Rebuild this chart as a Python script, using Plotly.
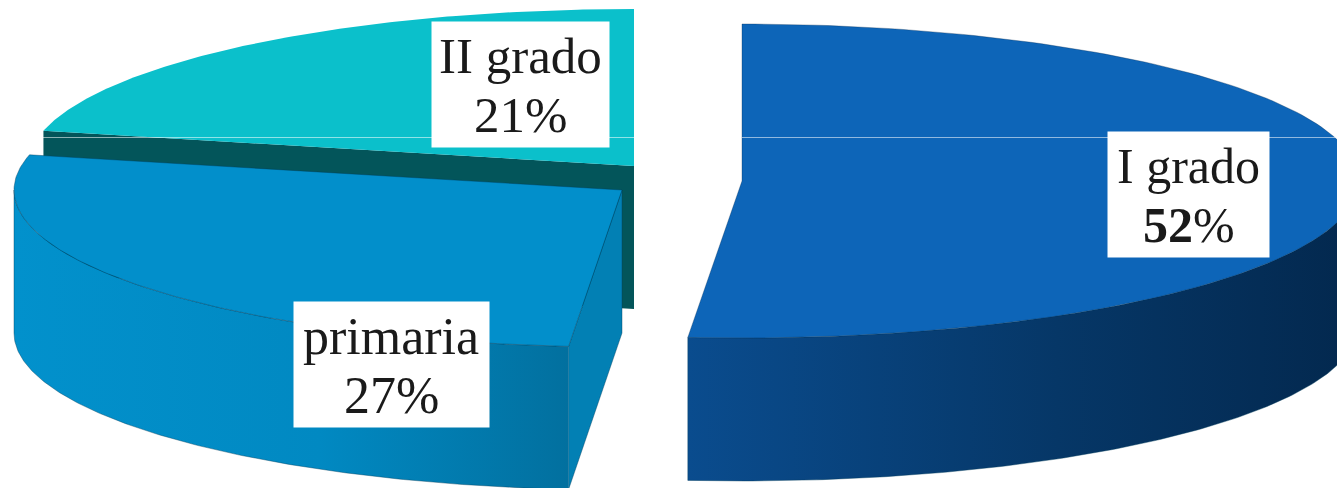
import numpy as np
import plotly.graph_objects as go

categories = ["I grado", "primaria", "II grado"]
shares = [51.4, 27.2, 21.4]
labels = ["52", "27", "21"]

W, H = 1337, 488
RY, DEPTH = 157, 143
vertex = {"I grado": (742, 181), "primaria": (622, 190), "II grado": (634, 166)}
radius = {"I grado": 617, "primaria": 608, "II grado": 606}
top_col = {"I grado": "#0d65b8", "primaria": "#028fcb", "II grado": "#0bc0cb"}

edges = np.concatenate([[0], np.cumsum(shares)]) / sum(shares) * 2 * np.pi
span = {c: (edges[i], edges[i + 1]) for i, c in enumerate(categories)}


def rim(c, a0=None, a1=None):
    s0, s1 = span[c]
    a0 = s0 if a0 is None else a0
    a1 = s1 if a1 is None else a1
    t = np.linspace(a0, a1, 160)
    cx, cy = vertex[c]
    return cx + radius[c] * np.sin(t), cy - RY * np.cos(t)


fig = go.Figure()


def face(x, y, color=None, grad=None, line="rgba(0,60,90,0.5)", width=0.8):
    kw = dict(fillcolor=color) if grad is None else dict(fillgradient=grad)
    fig.add_trace(go.Scatter(x=x, y=y, mode="lines", fill="toself", hoverinfo="skip",
                             line=dict(color=line, width=width), showlegend=False, **kw))


def grad(x0, x1, stops):
    return dict(type="horizontal", start=x0, stop=x1, colorscale=stops)


def pt_on(c, a):
    cx, cy = vertex[c]
    return cx + radius[c] * np.sin(a), cy - RY * np.cos(a)


# II grado: cut face and top
c = "II grado"
cx, cy = vertex[c]
x0, y0 = pt_on(c, span[c][0])
face([x0, cx, cx, x0, x0], [y0, cy, cy + DEPTH, y0 + DEPTH, y0], color="#03555a", width=0)
x, y = rim(c)
face(np.r_[cx, x, cx], np.r_[cy, y, cy], color=top_col[c], line=top_col[c], width=0)

# primaria: cut face, rim side, top
c = "primaria"
cx, cy = vertex[c]
x1, y1 = pt_on(c, span[c][0])
face([cx, x1, x1, cx, cx], [cy, y1, y1 + DEPTH, cy + DEPTH, cy], color="#0280b4")
x, y = rim(c, a1=3 * np.pi / 2)
face(np.r_[x, x[::-1]], np.r_[y, y[::-1] + DEPTH],
     grad=grad(x.min(), x.max(), [[0, "#0291cc"], [0.55, "#0189c2"], [1, "#02709f"]]))
x, y = rim(c)
face(np.r_[cx, x, cx], np.r_[cy, y, cy], color=top_col[c])

# I grado: rim side and top
c = "I grado"
cx, cy = vertex[c]
x, y = rim(c, a0=np.pi / 2)
face(np.r_[x, x[::-1]], np.r_[y, y[::-1] + DEPTH],
     grad=grad(x.min(), x.max(), [[0, "#0a4c8e"], [0.55, "#063767"], [1, "#03284e"]]))
x, y = rim(c)
face(np.r_[cx, x, cx], np.r_[cy, y, cy], color=top_col[c], line="rgba(3,40,80,0.4)")

# thin pale scan line that crosses the picture in the reference
for xa, xb in [(43, 634), (742, 1337)]:
    fig.add_shape(type="line", x0=xa, x1=xb, y0=137.5, y1=137.5,
                  line=dict(color="rgba(255,255,255,0.55)", width=1))

boxes = {"I grado": (1188.5, 194, 161, 50), "primaria": (391, 364, 195, 52), "II grado": (520, 84, 177, 51)}
for c, lab in zip(categories, labels):
    bx, by, bw, fs = boxes[c]
    val = f"<b>{lab}</b>%" if c == "I grado" else f"{lab}%"
    font = dict(family="Liberation Serif", size=fs, color="#1a1a1a")
    fig.add_annotation(x=bx, y=by, text=" ", showarrow=False, width=bw, height=125,
                       bgcolor="white", borderpad=0, font=font)
    fig.add_annotation(x=bx, y=by - 28, text=c, showarrow=False, font=font)
    fig.add_annotation(x=bx, y=by + 31, text=val, showarrow=False, font=font)

fig.update_layout(width=W, height=H, margin=dict(l=0, r=0, t=0, b=0), paper_bgcolor="white",
                  plot_bgcolor="white", showlegend=False,
                  xaxis=dict(range=[0, W], visible=False, fixedrange=True),
                  yaxis=dict(range=[H, 0], visible=False, fixedrange=True))
fig.write_html("out.html", config={"displayModeBar": False},
               post_script="document.body.style.margin='0';document.body.style.overflow='hidden';")
